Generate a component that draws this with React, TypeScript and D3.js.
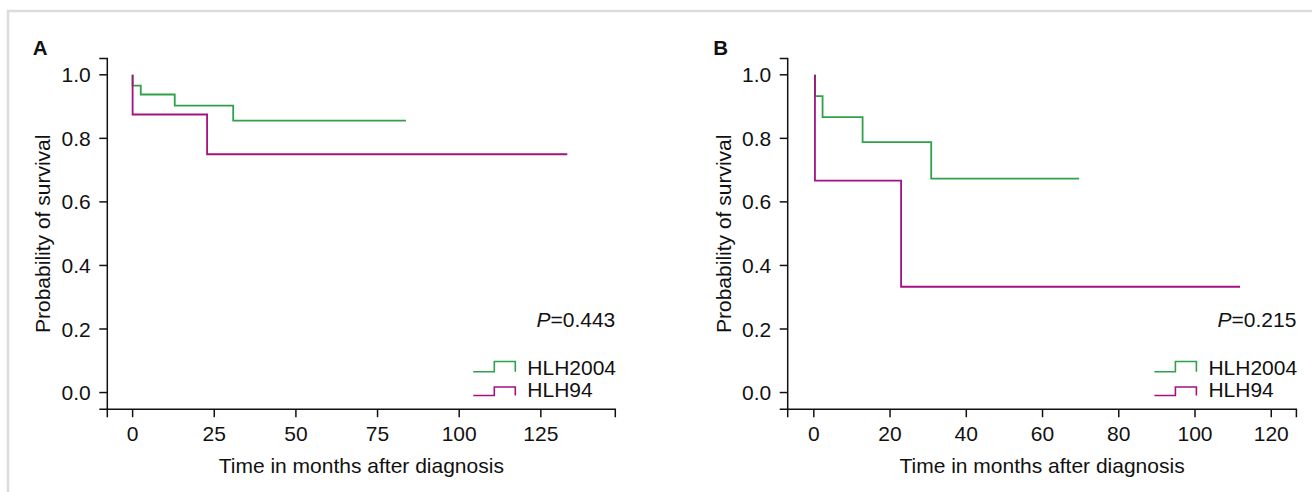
import React from "react";
import * as d3 from "d3";

// ---- Data ----
const seriesNames = ["HLH2004", "HLH94"];
const seriesColors = ["#2ea24a", "#a3127f"];

// Panel A (step points: [time, survival from that time])
const timesA_HLH2004 = [0, 0, 2.5, 12.9, 30.8, 83.7];
const survA_HLH2004 = [1.0, 0.966, 0.938, 0.903, 0.856, 0.856];
const timesA_HLH94 = [0, 0, 22.8, 133.1];
const survA_HLH94 = [1.0, 0.875, 0.75, 0.75];

// Panel B
const timesB_HLH2004 = [0.3, 0.3, 2.3, 12.8, 30.8, 69.6];
const survB_HLH2004 = [1.0, 0.933, 0.867, 0.788, 0.673, 0.673];
const timesB_HLH94 = [0.3, 0.3, 22.9, 111.8];
const survB_HLH94 = [1.0, 0.667, 0.333, 0.333];

const xTicksA = [0, 25, 50, 75, 100, 125];
const xTicksB = [0, 20, 40, 60, 80, 100, 120];
const yTicks = [0, 0.2, 0.4, 0.6, 0.8, 1.0];
const pValues = ["0.443", "0.215"];
const panelLabels = ["A", "B"];

const xTitle = "Time in months after diagnosis";
const yTitle = "Probability of survival";

const FONT = "'Liberation Sans', Arial, sans-serif";
const FS = 21;

type PanelProps = {
  label: string;
  left: number;
  right: number;
  xDomain: [number, number];
  xTicks: number[];
  series: { t: number[]; s: number[] }[];
  p: string;
};

function Panel({ label, left, right, xDomain, xTicks, series, p }: PanelProps) {
  const top = 58.4;
  const bottom = 409.2;
  const x = d3.scaleLinear().domain(xDomain).range([left, right]);
  const y = d3.scaleLinear().domain([-0.0524, 1.0516]).range([bottom, top]);
  const line = d3
    .line<[number, number]>()
    .x((d) => x(d[0]))
    .y((d) => y(d[1]))
    .curve(d3.curveStepAfter);

  const tick = 8;
  const legendTextX = right - 88;
  const legendRows = [
    { lower: 371.7, upper: 361.5, base: 375 },
    { lower: 395.5, upper: 387, base: 397 },
  ];

  return (
    <g fontFamily={FONT} fill="#111">
      <text x={left - 74.5} y={54.5} fontSize={20.5} fontWeight="bold">
        {label}
      </text>
      {/* y axis */}
      <path
        d={`M${left - tick},${top}H${left}V${bottom}H${left - tick}`}
        fill="none"
        stroke="#111"
        strokeWidth={1.5}
      />
      {yTicks.map((v) => (
        <g key={v}>
          <line x1={left - tick} x2={left} y1={y(v)} y2={y(v)} stroke="#111" strokeWidth={1.5} />
          <text x={left - 16.5} y={y(v)} dy="0.36em" textAnchor="end" fontSize={FS}>
            {v.toFixed(1)}
          </text>
        </g>
      ))}
      {/* x axis */}
      <path
        d={`M${left},${bottom + tick}V${bottom}H${right}V${bottom + tick}`}
        fill="none"
        stroke="#111"
        strokeWidth={1.5}
      />
      {xTicks.map((v) => (
        <g key={v}>
          <line x1={x(v)} x2={x(v)} y1={bottom} y2={bottom + tick} stroke="#111" strokeWidth={1.5} />
          <text x={x(v)} y={bottom + 32} textAnchor="middle" fontSize={FS}>
            {v}
          </text>
        </g>
      ))}
      <text x={(left + right) / 2} y={473} textAnchor="middle" fontSize={FS}>
        {xTitle}
      </text>
      <text
        transform={`translate(${left - 57},${(top + bottom) / 2}) rotate(-90)`}
        textAnchor="middle"
        fontSize={FS}
      >
        {yTitle}
      </text>
      {/* curves */}
      {series.map((sr, i) => (
        <path
          key={i}
          d={line(sr.t.map((t, k) => [t, sr.s[k]] as [number, number])) || ""}
          fill="none"
          stroke={seriesColors[i]}
          strokeWidth={1.8}
        />
      ))}
      {/* P value */}
      <text x={right} y={327} textAnchor="end" fontSize={FS}>
        <tspan fontStyle="italic">P</tspan>={p}
      </text>
      {/* legend */}
      {seriesNames.map((name, i) => {
        const r = legendRows[i];
        const x0 = legendTextX - 54;
        const x1 = legendTextX - 33;
        const x2 = legendTextX - 12;
        return (
          <g key={name}>
            <path
              d={`M${x0},${r.lower}H${x1}V${r.upper}H${x2}V${r.lower}`}
              fill="none"
              stroke={seriesColors[i]}
              strokeWidth={1.6}
            />
            <text x={legendTextX} y={r.base} fontSize={FS}>
              {name}
            </text>
          </g>
        );
      })}
    </g>
  );
}

export default function App() {
  return (
    <svg
      width={1312}
      height={492}
      style={{ position: "absolute", left: 0, top: 0, background: "#fff" }}
    >
      <rect x={0} y={0} width={1312} height={492} fill="#fff" />
      <path d="M8,492V11H1312" fill="none" stroke="#dcdcdc" strokeWidth={2.5} />
      <Panel
        label={panelLabels[0]}
        left={107.3}
        right={615.3}
        xDomain={[-7.75, 147.8]}
        xTicks={xTicksA}
        series={[
          { t: timesA_HLH2004, s: survA_HLH2004 },
          { t: timesA_HLH94, s: survA_HLH94 },
        ]}
        p={pValues[0]}
      />
      <Panel
        label={panelLabels[1]}
        left={787.7}
        right={1296.4}
        xDomain={[-6.85, 126.6]}
        xTicks={xTicksB}
        series={[
          { t: timesB_HLH2004, s: survB_HLH2004 },
          { t: timesB_HLH94, s: survB_HLH94 },
        ]}
        p={pValues[1]}
      />
    </svg>
  );
}
